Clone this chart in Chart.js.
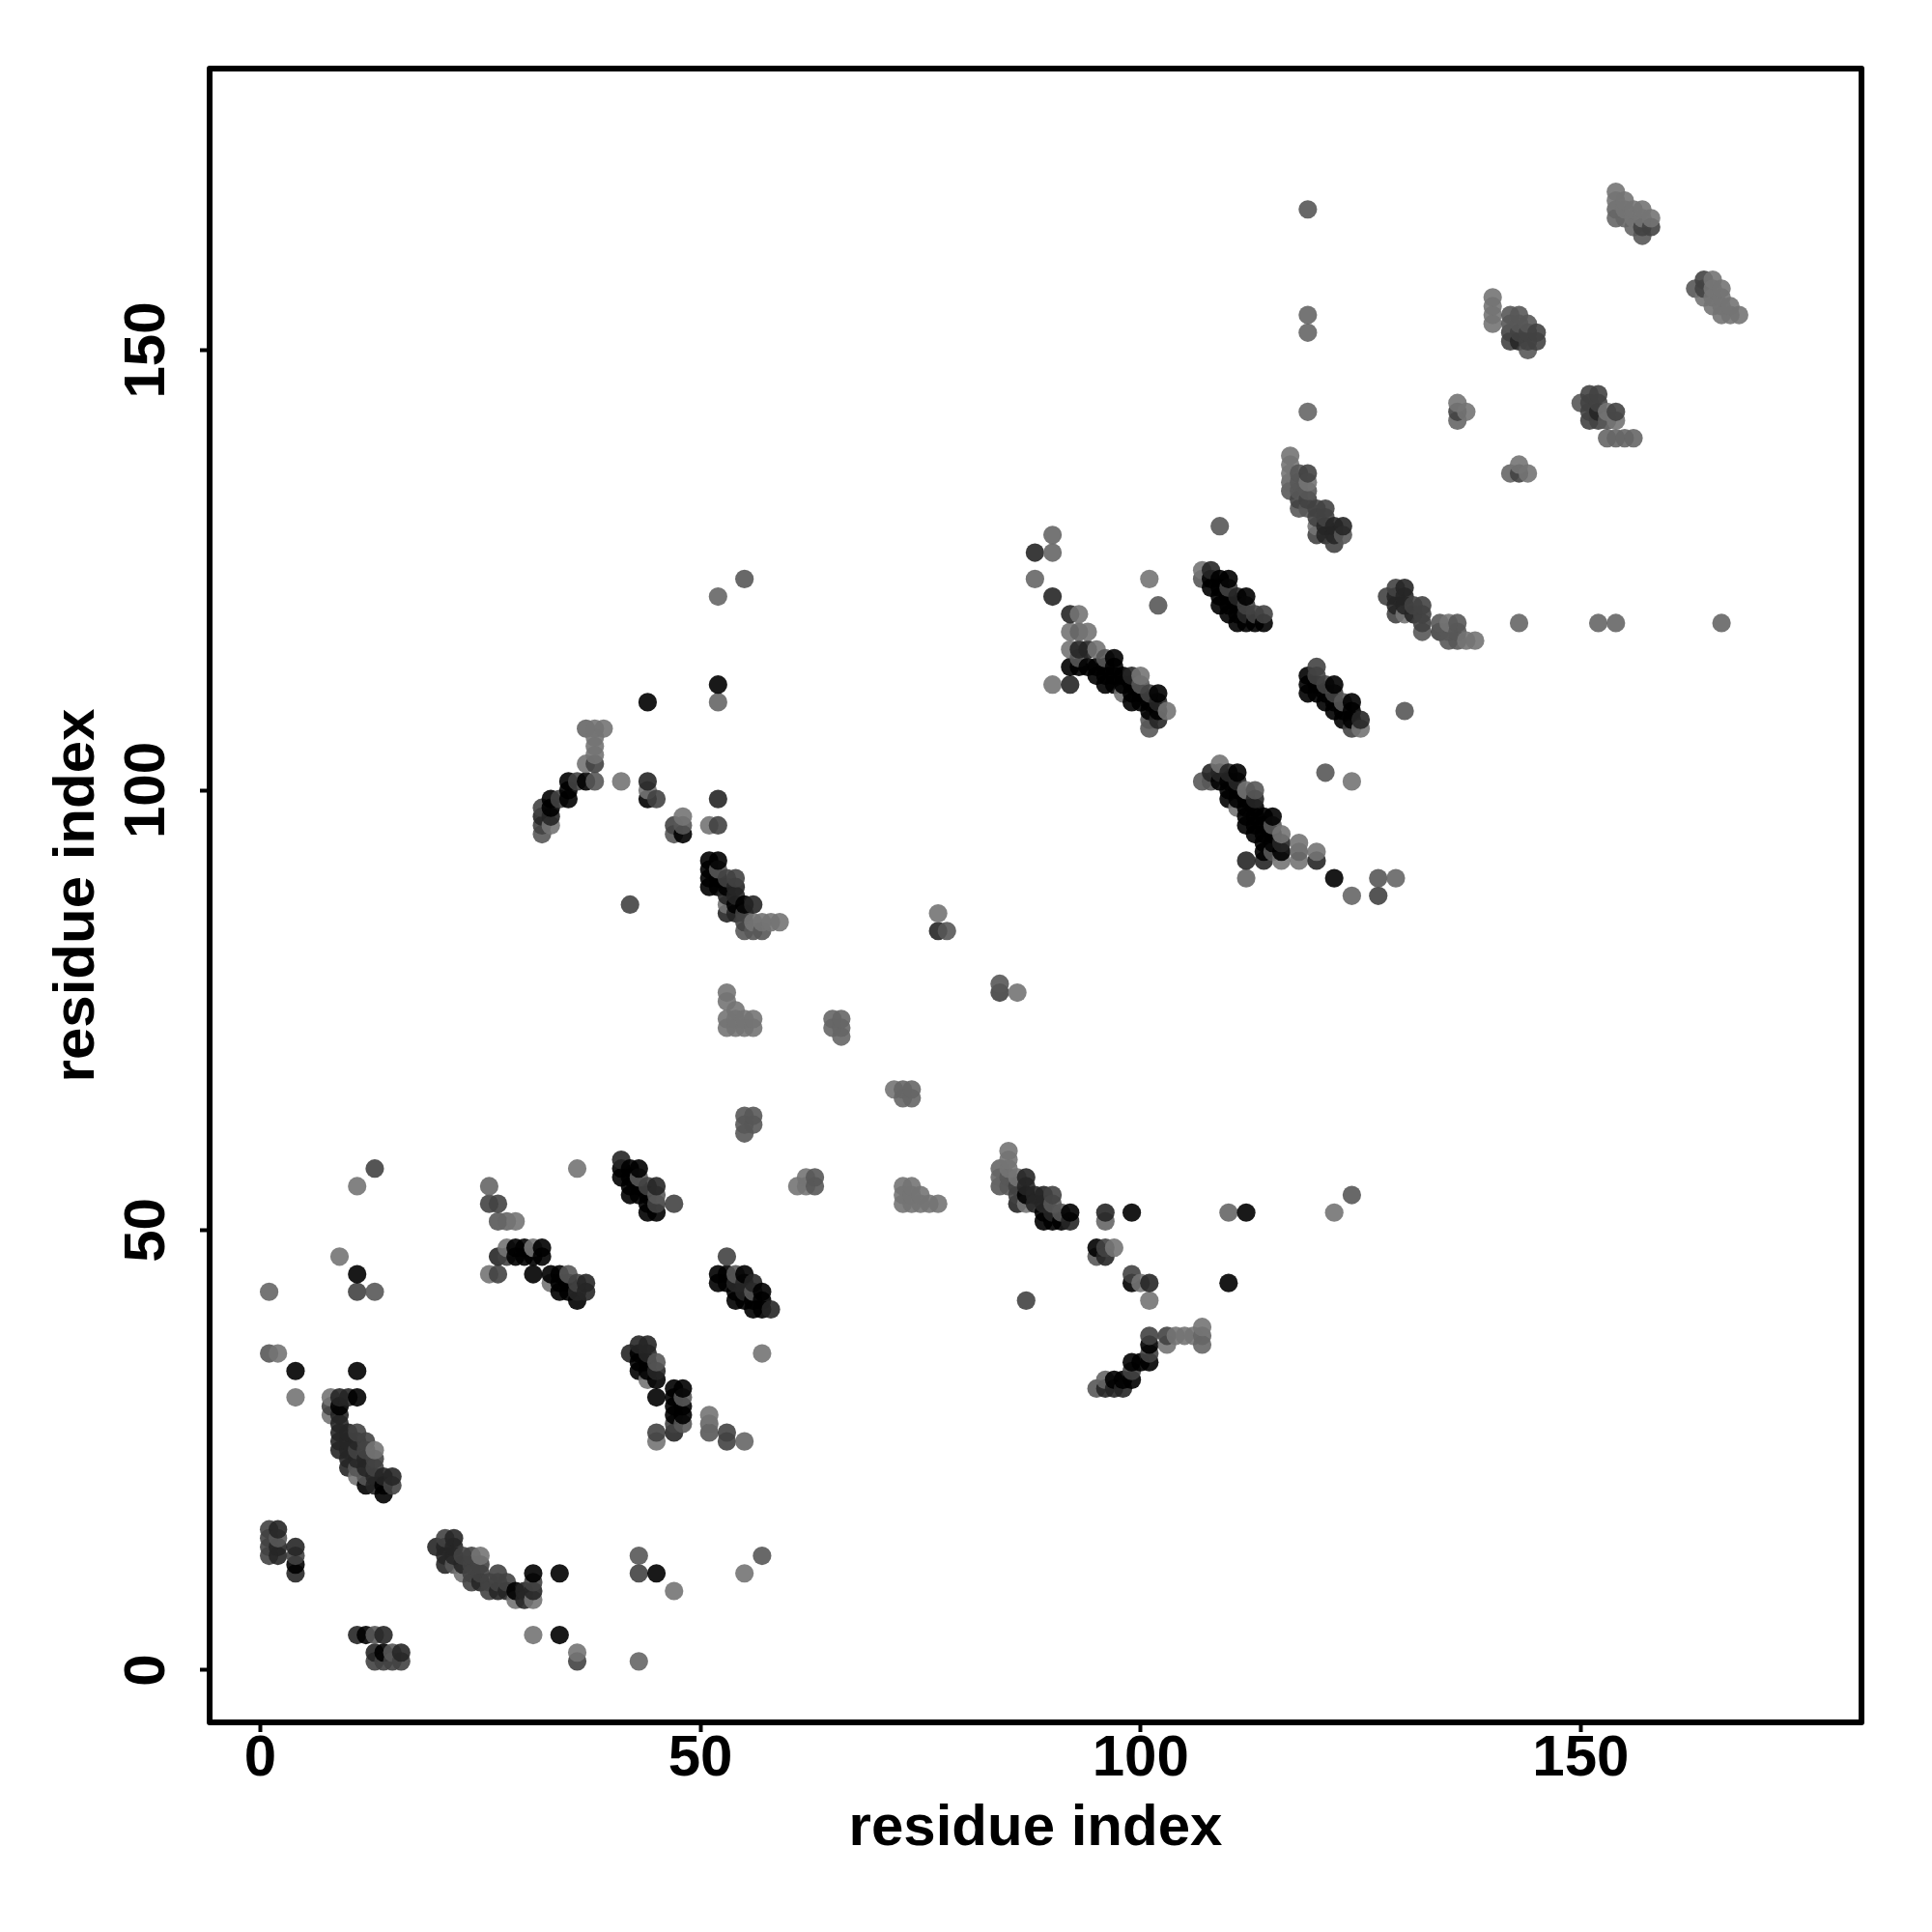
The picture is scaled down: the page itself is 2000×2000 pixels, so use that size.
<!DOCTYPE html>
<html>
<head>
<meta charset="utf-8">
<title>residue contacts</title>
<script src="https://cdn.jsdelivr.net/npm/chart.js@4/dist/chart.umd.min.js"></script>
<style>
html, body { margin: 0; padding: 0; background: #fff; }
canvas { display: block; }
</style>
</head>
<body>
<canvas id="contactChart" width="2000" height="2000"></canvas>
<script>
// each contact: [residue x, residue y, level] - level 0 is the darkest, 5 the lightest
const scattered = [
  [13,57,2],[11,55,5],[9,47,5],[11,45,0],[11,43,2],[13,43,3],[1,43,4],[1,36,3],[2,36,5],[4,34,0],[11,34,0],[4,31,5],
  [34,11,0],[43,13,3],[43,11,2],[45,11,0],[47,9,5],[57,13,3],[55,11,5],[31,4,5],[34,4,0],[36,2,5],[36,1,2],[43,1,4],
  [36,57,5],[45,27,2],[45,26,5],[51,29,5],[51,28,4],[51,27,3],[53,27,2],[53,26,2],[55,26,4],[57,36,5],[45,31,0],
  [96,52,1],[96,51,4],[99,52,0],[110,52,4],[112,52,0],[122,52,5],[124,54,3],[87,42,2],[110,44,0],
  [41,101,5],[44,110,0],[52,110,4],[52,112,0],[52,122,4],[55,124,3],[52,99,1],[52,96,2],[51,96,5],[42,87,2],
  [77,86,5],[77,84,1],[78,84,3],[84,78,3],[84,77,2],[86,77,5],
  [90,129,4],[88,127,1],[90,127,4],[88,124,4],[90,122,1],[101,124,5],[102,121,3],
  [119,166,3],[119,154,4],[119,152,4],[119,143,4],[109,130,3],[143,119,4],[152,119,4],[154,119,4],[166,119,4],
  [130,109,3],[121,102,3],[124,101,5],[112,92,1],[112,90,4],[122,90,0],[127,90,3],[129,90,4],[124,88,4],[127,88,2]
];
const clusterLowLeft = [
  [8,31,5],[9,31,1],[10,31,1],[11,31,0],[8,30,2],[9,30,0],[8,29,5],[9,29,1],[9,28,1],
  [9,27,1],[10,27,1],[11,27,2],[9,26,1],[10,26,1],[11,26,1],[12,26,2],
  [9,25,1],[10,25,1],[11,25,2],[12,25,2],[13,25,5],[10,24,1],[11,24,1],[12,24,1],[13,24,2],
  [10,23,1],[11,23,3],[12,23,1],[13,23,2],[11,22,5],[12,22,3],[13,22,1],[14,22,1],[15,22,1],
  [12,21,0],[13,21,1],[14,21,0],[15,21,2],[14,20,0],
  [1,16,2],[2,16,1],[1,15,2],[2,15,3],[1,14,2],[2,14,1],[1,13,2],[2,13,1],[4,14,1],[4,13,2],[4,12,0],[4,11,1],
  [11,4,1],[12,4,0],[13,4,3],[14,4,1],[13,2,1],[14,2,0],[15,2,3],[16,2,1],[13,1,2],[14,1,2],[15,1,2],[16,1,2]
];
const clusterLowBand = [
  [20,14,1],[21,15,2],[21,14,1],[21,13,1],[21,12,1],[22,15,1],[22,14,1],[22,13,1],[22,12,3],
  [23,13,2],[23,12,1],[23,11,5],[24,13,2],[24,12,2],[24,11,2],[24,10,2],[25,13,5],[25,12,2],[25,11,2],[25,10,1],
  [26,10,2],[26,9,2],[27,11,2],[27,10,2],[27,9,1],[28,10,2],[28,9,1],[29,9,0],[29,8,5],[30,9,1],[30,8,1],
  [31,11,0],[31,10,2],[31,9,1],[31,8,5]
];
const clusterMidLow = [
  [26,55,4],[26,53,2],[27,53,2],[27,51,3],[28,51,4],[29,51,5],
  [28,48,5],[29,48,0],[30,48,0],[31,48,5],[32,48,0],[27,47,1],[28,47,2],[29,47,0],[30,47,0],[31,47,0],[32,47,0],
  [26,45,5],[27,45,2],[31,45,0],[33,45,0],[34,45,0],[35,45,3],[33,44,5],[34,44,0],[35,44,0],[36,44,2],[37,44,1],
  [34,43,0],[35,43,0],[36,43,1],[37,43,1],[36,42,0],
  [41,58,1],[41,57,0],[41,56,0],[42,57,0],[42,56,0],[42,55,0],[42,54,0],[43,57,0],[43,56,3],[43,55,0],[43,54,0],
  [44,55,2],[44,54,0],[44,53,0],[44,52,0],[45,55,1],[45,54,3],[45,53,2],[45,52,0],[47,53,2],
  [53,47,2],[52,45,0],[53,45,0],[54,45,3],[55,45,0],[52,44,0],[53,44,0],[54,44,1],[55,44,1],[56,44,1],
  [54,43,0],[55,43,1],[56,43,3],[57,43,0],[54,42,0],[55,42,0],[56,42,0],[57,42,0],[56,41,0],[57,41,0],[58,41,1],
  [43,37,1],[44,37,1],[42,36,1],[43,36,0],[44,36,1],[43,35,0],[44,35,0],[45,35,3],[43,34,0],[44,34,0],[45,34,1],[44,33,5],[45,33,0],
  [47,32,0],[47,31,0],[47,30,0],[47,29,0],[47,28,2],[47,27,1],[48,32,0],[48,31,3],[48,30,0],[48,29,0],[48,28,3]
];
const clusterMidRight = [
  [85,59,5],[85,58,5],[85,57,5],[85,56,3],[85,55,3],[84,57,4],[84,56,4],[84,55,3],[86,56,5],[86,55,2],[86,54,2],[86,53,1],
  [87,56,1],[87,55,1],[87,54,0],[87,53,5],[88,54,1],[88,53,1],[89,54,1],[89,53,1],[89,52,0],[89,51,0],
  [90,54,2],[90,53,3],[90,52,1],[90,51,0],[91,52,3],[91,51,0],[92,52,0],[92,51,1],
  [95,48,0],[95,47,3],[96,48,2],[96,47,1],[97,48,5],[99,45,2],[99,44,0],[100,44,5],[101,44,1],[101,42,5],
  [95,32,3],[96,33,4],[96,32,1],[97,33,0],[97,32,1],[98,33,0],[98,32,1],[99,33,0],[99,34,2],[99,35,0],[100,35,0],
  [101,35,0],[101,36,2],[101,37,0],[101,38,2],[103,38,2],[103,37,5],[104,38,5],[105,38,5],[106,38,5],[107,39,5],[107,38,4],[107,37,4]
];
const clusterCentre = [
  [73,55,5],[73,54,5],[73,53,5],[74,55,5],[74,54,5],[74,53,5],[75,54,5],[75,53,5],[76,53,5],[77,53,5],
  [63,56,3],[63,55,3],[61,55,5],[62,56,5],[62,55,5],
  [53,77,5],[53,76,5],[53,74,5],[53,73,5],[54,75,5],[54,74,5],[54,73,5],[55,74,5],[55,73,5],[56,74,5],[56,73,5],
  [65,74,4],[65,73,4],[66,74,4],[66,73,4],[66,72,4],[72,66,5],[73,66,4],[73,65,4],[74,66,4],[74,65,4],
  [55,63,3],[55,62,3],[55,61,3],[56,63,3],[56,62,3]
];
const clusterUpperLeft = [
  [32,98,2],[32,97,1],[32,96,2],[32,95,3],[33,99,0],[33,98,0],[33,97,1],[33,96,5],[34,99,2],[35,101,0],[35,100,0],[35,99,0],
  [36,101,2],[37,101,0],[37,103,5],[37,107,4],[38,101,3],[38,103,2],[38,104,5],[38,105,5],[38,106,5],[38,107,5],[39,107,5],
  [44,101,1],[44,100,5],[44,99,0],[45,99,2],[48,97,5],[48,96,3],[48,95,0],[47,96,2],[47,95,3],
  [51,92,0],[51,91,0],[51,90,0],[51,89,0],[52,92,0],[52,91,3],[52,90,0],[52,89,0],
  [53,90,2],[53,89,0],[53,88,1],[53,87,5],[53,86,1],[54,90,2],[54,89,1],[54,88,1],[54,87,0],[54,86,1],
  [55,87,0],[55,86,2],[55,85,2],[55,84,3],[56,87,1],[56,85,5],[56,84,3],[57,85,5],[57,84,3],[58,85,5],[59,85,5]
];
const clusterDiagonalA = [
  [92,120,1],[93,120,5],[92,118,5],[93,118,4],[94,118,5],[92,116,5],[93,116,1],[94,116,1],[95,116,5],
  [93,115,3],[96,115,3],[97,115,0],[92,114,0],[93,114,0],[94,114,0],[95,114,0],[96,114,0],[97,114,0],
  [95,113,0],[96,113,0],[97,113,0],[98,113,0],[99,113,1],[100,113,5],
  [90,112,5],[92,112,1],[96,112,0],[97,112,0],[98,112,0],[99,112,0],[100,112,3],
  [98,111,5],[99,111,0],[100,111,0],[101,111,2],[102,111,0],[99,110,0],[100,110,0],[101,110,0],[102,110,1],
  [101,109,0],[102,109,0],[103,109,5],[101,108,3],[102,108,1],[101,107,3],
  [107,125,5],[107,124,3],[108,125,1],[108,124,0],[108,123,0],[109,124,0],[109,123,0],[109,122,0],[109,121,0],
  [110,124,0],[110,123,2],[110,122,0],[110,121,0],[110,120,0],[111,122,1],[111,121,0],[111,120,0],[111,119,0],
  [112,122,0],[112,121,2],[112,120,1],[112,119,0],[113,120,2],[113,119,0],[114,120,2],[114,119,0]
];
const clusterDiagonalB = [
  [120,114,2],[119,113,0],[119,112,0],[119,111,0],[120,113,2],[120,112,0],[120,111,0],[121,112,2],[121,111,0],[121,110,0],
  [122,112,0],[122,111,2],[122,110,0],[122,109,0],[123,110,3],[123,109,0],[123,108,0],[124,110,0],[124,109,0],[124,108,0],[124,107,2],[125,108,1],[125,107,5],
  [107,101,3],[108,102,1],[108,101,3],[109,103,5],[109,102,1],[109,101,0],[110,102,1],[110,101,0],[110,100,0],[110,99,0],
  [111,102,0],[111,101,1],[111,100,0],[111,99,0],[111,98,5],[112,100,5],[112,99,0],[112,98,0],[112,97,0],[112,96,0],
  [113,100,3],[113,99,1],[113,98,0],[113,97,0],[113,96,0],[113,95,0],[114,97,0],[114,96,0],[114,95,0],[114,94,0],[114,93,0],[114,92,1],
  [115,97,0],[115,96,3],[115,95,0],[115,94,0],[115,93,3],[116,95,5],[116,94,1],[116,93,0],[116,92,5],[118,94,5],[118,93,4],[118,92,5],[120,93,5],[120,92,1]
];
const clusterUpperRight = [
  [117,138,5],[117,137,5],[117,136,5],[117,135,4],[117,134,3],[118,136,3],[118,135,3],[118,134,3],[118,133,2],[118,132,3],
  [119,136,2],[119,135,5],[119,134,3],[119,133,2],[119,132,3],[120,132,2],[120,131,2],[120,130,5],[120,129,2],
  [121,132,2],[121,131,2],[121,130,1],[121,129,1],[122,130,1],[122,129,1],[122,128,2],[123,130,1],[123,129,3],
  [128,122,2],[129,123,2],[129,122,1],[129,121,1],[129,120,2],[130,123,1],[130,122,1],[130,121,1],[130,120,5],
  [131,121,2],[131,120,1],[132,121,2],[132,120,2],[132,119,2],[132,118,3],[134,119,3],[134,118,2],
  [135,119,5],[135,118,3],[135,117,3],[136,119,3],[136,118,3],[136,117,3],[137,117,5],[138,117,5],
  [136,144,5],[136,143,2],[136,142,4],[137,143,5],[142,136,4],[143,137,5],[143,136,2],[144,136,5],
  [150,144,3],[151,145,2],[151,144,2],[151,143,2],[151,142,2],[152,145,2],[152,144,2],[152,143,1],[152,142,2],
  [153,143,5],[153,142,3],[153,140,4],[154,143,2],[154,142,5],[154,140,4],[155,140,4],[156,140,4]
];
const clusterTop = [
  [140,156,5],[140,155,5],[140,154,5],[140,153,5],[142,154,3],[142,153,3],[142,152,2],[142,151,2],
  [143,154,3],[143,153,3],[143,152,2],[143,151,1],[144,153,3],[144,152,2],[144,151,2],[144,150,3],[145,152,2],[145,151,2],
  [154,168,5],[154,167,5],[154,166,4],[154,165,4],[155,167,5],[155,166,5],[155,165,4],[156,166,5],[156,165,5],[156,164,4],
  [157,166,5],[157,165,5],[157,164,2],[157,163,3],[158,165,5],[158,164,2],
  [163,157,3],[164,158,2],[164,157,2],[164,156,5],[165,158,5],[165,157,5],[165,156,5],[165,155,5],
  [166,157,5],[166,156,5],[166,155,5],[166,154,5],[167,155,5],[167,154,5],[168,154,5]
];
const levelGreys = [0, 38, 66, 88, 102, 116];
const xTicks = [0, 50, 100, 150];
const yTicks = [0, 50, 100, 150];
const axisTitle = 'residue index';

// later residues are painted over earlier ones, same as in the original plot
const contacts = [].concat(scattered, clusterLowLeft, clusterLowBand, clusterMidLow, clusterMidRight,
  clusterCentre, clusterUpperLeft, clusterDiagonalA, clusterDiagonalB, clusterUpperRight, clusterTop)
  .sort((a, b) => a[0] - b[0] || a[1] - b[1]);

const boxFrame = {
  id: 'boxFrame',
  afterDraw(chart) {
    const { ctx, chartArea: a } = chart;
    ctx.save();
    ctx.strokeStyle = '#000';
    ctx.lineWidth = 6;
    ctx.lineJoin = 'round';
    ctx.strokeRect(a.left, a.top, a.right - a.left, a.bottom - a.top);
    ctx.restore();
  }
};

const font = { family: '"Liberation Sans", Arial, sans-serif', size: 60, weight: 'bold', lineHeight: 1.2 };

new Chart(document.getElementById('contactChart').getContext('2d'), {
  type: 'scatter',
  data: {
    datasets: [{
      data: contacts.map(c => ({ x: c[0], y: c[1] })),
      pointRadius: 9.6,
      pointBorderWidth: 0,
      pointBackgroundColor: contacts.map(c => `rgba(${levelGreys[c[2]]},${levelGreys[c[2]]},${levelGreys[c[2]]},0.9)`)
    }]
  },
  options: {
    responsive: false,
    animation: false,
    layout: { padding: { top: 71, right: 73, left: 0, bottom: 0 } },
    plugins: { legend: { display: false }, tooltip: { enabled: false } },
    scales: {
      x: {
        type: 'linear',
        min: -5.76,
        max: 181.9,
        afterFit(scale) { scale.height = 217; },
        afterBuildTicks(scale) { scale.ticks = xTicks.map(v => ({ value: v })); },
        grid: { drawOnChartArea: false, tickLength: 10, tickWidth: 4, tickColor: '#000' },
        border: { display: false },
        ticks: { color: '#000', font, padding: -8, minRotation: 0, maxRotation: 0, autoSkip: false },
        title: { display: true, text: axisTitle, color: '#000', font, padding: { top: 0, bottom: 71 } }
      },
      y: {
        type: 'linear',
        min: -5.93,
        max: 182,
        afterFit(scale) { scale.width = 217; },
        afterBuildTicks(scale) { scale.ticks = yTicks.map(v => ({ value: v })); },
        grid: { drawOnChartArea: false, tickLength: 10, tickWidth: 4, tickColor: '#000' },
        border: { display: false },
        ticks: { color: '#000', font, padding: 3, minRotation: 90, maxRotation: 90, autoSkip: false, crossAlign: 'center' },
        title: { display: true, text: axisTitle, color: '#000', font, padding: { top: 44, bottom: 0 } }
      }
    }
  },
  plugins: [boxFrame]
});
</script>
</body>
</html>
